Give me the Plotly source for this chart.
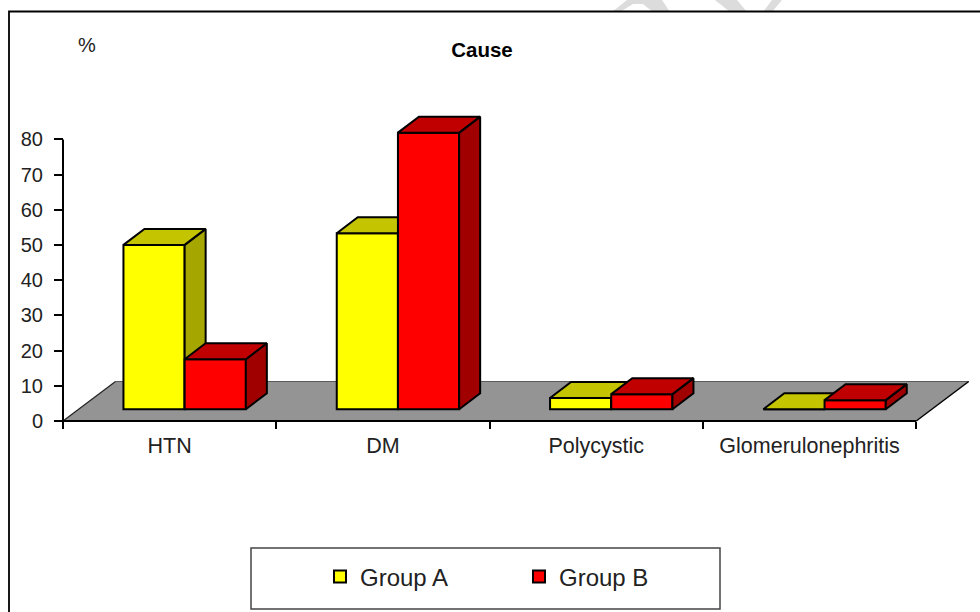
import plotly.graph_objects as go

# ---- data ----
categories = ["HTN", "DM", "Polycystic", "Glomerulonephritis"]
group_a = [46.7, 50.0, 3.2, 0.0]
group_b = [14.2, 78.6, 4.3, 2.6]
y_ticks = [0, 10, 20, 30, 40, 50, 60, 70, 80]

# ---- figure geometry (pixels) ----
W, H = 980, 612
X0_PX, X_UNIT = 63.0, 213.3      # pixel of category edge 0, px per category
Y0_PX, Y_UNIT = 421.0, 3.52      # pixel of value 0, px per value unit

x_range = [(0 - X0_PX) / X_UNIT, (W - X0_PX) / X_UNIT]
y_range = [(Y0_PX - H) / Y_UNIT, Y0_PX / Y_UNIT]

BAR_W = 61.2 / X_UNIT
SHIFT = 15.0 / X_UNIT
BASE = 11.7 / Y_UNIT
DX, DY = 21.0 / X_UNIT, 16.0 / Y_UNIT
FLOOR_DX, FLOOR_DY = 52.5 / X_UNIT, 39.5 / Y_UNIT
EDGE = dict(color="black", width=2)
FONT = "Liberation Sans, Arial, sans-serif"


def bar_centres(sign):
    return [i + 0.5 + SHIFT + sign * BAR_W / 2 for i in range(len(categories))]


def face_traces(centres, values, top_col, side_col, xa, ya):
    tx, ty, sx, sy = [], [], [], []
    for c, v in zip(centres, values):
        x0, x1 = c - BAR_W / 2, c + BAR_W / 2
        t = BASE + v
        tx += [x0, x1, x1 + DX, x0 + DX, x0, None]
        ty += [t, t, t + DY, t + DY, t, None]
        sx += [x1, x1, x1 + DX, x1 + DX, x1, None]
        sy += [BASE, t, t + DY, BASE + DY, BASE, None]
    common = dict(mode="lines", fill="toself", line=EDGE, showlegend=False,
                  hoverinfo="skip", xaxis=xa, yaxis=ya)
    return [go.Scatter(x=sx, y=sy, fillcolor=side_col, **common),
            go.Scatter(x=tx, y=ty, fillcolor=top_col, **common)]


def paper_poly(points):
    # pixel polygon -> paper coordinates
    parts = [f"{x / W:.5f} {1 - y / H:.5f}" for x, y in points]
    return "M " + " L ".join(parts) + " Z"


fig = go.Figure()

# Group A on the lower axis pair
fig.add_trace(go.Bar(x=bar_centres(-1), y=group_a, base=BASE, width=BAR_W,
                     name="Group A", marker=dict(color="#FFFF00", line=EDGE),
                     xaxis="x", yaxis="y"))
for t in face_traces(bar_centres(-1), group_a, "#C4C400", "#A6A600", "x", "y"):
    fig.add_trace(t)

# Group B on an overlaying axis pair so that it hides Group A's side faces
fig.add_trace(go.Bar(x=bar_centres(1), y=group_b, base=BASE, width=BAR_W,
                     name="Group B", marker=dict(color="#FF0000", line=EDGE),
                     xaxis="x2", yaxis="y2"))
for t in face_traces(bar_centres(1), group_b, "#C00000", "#A00000", "x2", "y2"):
    fig.add_trace(t)

n = len(categories)
WM = dict(type="path", xref="paper", yref="paper", layer="below",
          fillcolor="#DCDCDC", line=dict(width=0))
shapes = [
    # remains of the page watermark above the frame
    dict(WM, path=paper_poly([(612, 12), (627, 0), (662, 0), (670, 12), (653, 12),
                              (643, 4), (633, 4), (620, 12)])),
    dict(WM, path=paper_poly([(715, 0), (737, 0), (747, 12), (730, 12)])),
    dict(WM, path=paper_poly([(763, 12), (772, 12), (782, 0), (772, 0)])),
    # floor
    dict(type="path", layer="below", xref="x", yref="y",
         path=f"M 0 0 L {n} 0 L {n + FLOOR_DX} {FLOOR_DY} L {FLOOR_DX} {FLOOR_DY} Z",
         fillcolor="#949494", line=dict(width=0)),
    dict(type="line", layer="below", xref="x", yref="y", x0=FLOOR_DX, x1=n + FLOOR_DX,
         y0=FLOOR_DY, y1=FLOOR_DY, line=dict(color="#5A5A5A", width=1.2)),
    dict(type="line", layer="below", xref="x", yref="y", x0=0, x1=FLOOR_DX,
         y0=0, y1=FLOOR_DY, line=dict(color="#222222", width=1.2)),
    dict(type="line", layer="below", xref="x", yref="y", x0=n, x1=n + FLOOR_DX,
         y0=0, y1=FLOOR_DY, line=dict(color="black", width=1.5)),
    # axis lines limited to the real extent
    dict(type="line", layer="below", xref="x", yref="y", x0=0, x1=n, y0=0, y1=0,
         line=dict(color="black", width=2)),
    dict(type="line", layer="below", xref="x", yref="y", x0=0, x1=0,
         y0=y_ticks[0], y1=y_ticks[-1], line=dict(color="black", width=2)),
    # outer frame (runs off the right and bottom of the picture)
    dict(type="rect", xref="paper", yref="paper", x0=9 / W, x1=1.02,
         y0=-0.02, y1=1 - 11.5 / H, line=dict(color="black", width=1.8)),
    # legend box
    dict(type="rect", xref="paper", yref="paper", x0=251 / W, x1=720 / W,
         y0=1 - 609 / H, y1=1 - 548 / H, line=dict(color="#444444", width=1.5)),
]

fig.update_layout(
    width=W, height=H, margin=dict(l=0, r=0, t=0, b=0, pad=0),
    paper_bgcolor="white", plot_bgcolor="white",
    font=dict(family=FONT, color="#222222", size=20),
    shapes=shapes,
    title=dict(text="<b>Cause</b>", x=482 / W, y=1 - 50 / H, xanchor="center",
               yanchor="middle", font=dict(family=FONT, size=20.5, color="black")),
    annotations=[dict(text="%", xref="paper", yref="paper", x=87 / W, y=1 - 45 / H,
                      showarrow=False, xanchor="center", yanchor="middle",
                      font=dict(family=FONT, size=20, color="#222222"))],
    legend=dict(orientation="h", x=320 / W, y=1 - 577 / H, xanchor="left",
                yanchor="middle", bgcolor="rgba(0,0,0,0)", borderwidth=0,
                font=dict(family=FONT, size=24, color="#222222"),
                entrywidth=154, entrywidthmode="pixels", traceorder="normal"),
    xaxis=dict(range=x_range, domain=[0, 1], anchor="free", position=1 - Y0_PX / H,
               tickmode="array", tickvals=[i + 0.5 for i in range(n)], ticktext=categories,
               ticks="", ticklabelstandoff=9, showgrid=False, zeroline=False, showline=False,
               tickfont=dict(family=FONT, size=21.5, color="#222222"),
               minor=dict(tickmode="array", tickvals=list(range(n + 1)), ticks="outside",
                          ticklen=7, tickwidth=1.5, tickcolor="black", showgrid=False)),
    yaxis=dict(range=y_range, domain=[0, 1], anchor="free", position=X0_PX / W,
               tickmode="array", tickvals=y_ticks, ticks="outside", ticklen=9, tickwidth=1.5,
               tickcolor="black", showgrid=False, zeroline=False, showline=False,
               ticklabelstandoff=7,
               tickfont=dict(family=FONT, size=20, color="#222222")),
    xaxis2=dict(range=x_range, overlaying="x", visible=False, anchor="y2"),
    yaxis2=dict(range=y_range, overlaying="y", visible=False, anchor="x2"),
)

fig.write_html("out.html", config={"displayModeBar": False},
               post_script="document.body.style.margin='0';")
